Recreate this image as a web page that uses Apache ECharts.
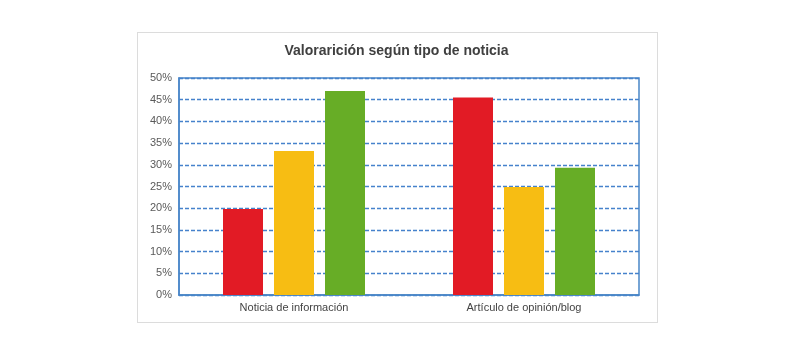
<!DOCTYPE html>
<html><head><meta charset="utf-8">
<script src="https://cdn.jsdelivr.net/npm/echarts@6/dist/echarts.min.js"></script>
<style>html,body{margin:0;padding:0;background:#fff}#frame{position:absolute;left:137px;top:32px;width:521px;height:291px;border:1.5px solid #dcdcdc;box-sizing:border-box}#c{position:absolute;left:0;top:0;width:793px;height:364px}</style>
</head><body><div id="frame"></div><div id="c"></div>
<script>
const categories = ['Noticia de información', 'Artículo de opinión/blog'];
const seriesRed = [19.8, 45.5];
const seriesYellow = [33.2, 24.9];
const seriesGreen = [47.0, 29.3];
const yTicks = [0, 5, 10, 15, 20, 25, 30, 35, 40, 45, 50];
const colors = ['#E21B25', '#F7BD13', '#67AD26'];
const chart = echarts.init(document.getElementById('c'));
const mk = (name, data, color) => ({name, type: 'bar', data, barWidth: 40, barGap: '27.5%', itemStyle: {color}});
chart.setOption({
  animation: false,
  title: {text: 'Valorarición según tipo de noticia', left: 'center', top: 39,
    textStyle: {fontFamily: 'Liberation Sans, Arial', fontSize: 14, fontWeight: 'bold', color: '#404040'}},
  grid: {left: 179, right: 154, top: 78, bottom: 69, show: true, borderColor: '#4A86C8', borderWidth: 1.5, containLabel: false},
  xAxis: {type: 'category', data: categories,
    axisLine: {show: true, lineStyle: {color: '#4A86C8', width: 1.5}},
    axisTick: {show: false},
    axisLabel: {color: '#444', fontFamily: 'Liberation Sans, Arial', fontSize: 11, margin: 7}},
  yAxis: {type: 'value', min: yTicks[0], max: yTicks[yTicks.length - 1], interval: 5,
    axisLine: {show: true, lineStyle: {color: '#4A86C8', width: 1.5}},
    axisTick: {show: false},
    splitLine: {show: true, lineStyle: {color: '#4682CC', type: [4, 2], width: 1.4}},
    axisLabel: {color: '#5a5a5a', fontFamily: 'Liberation Sans, Arial', fontSize: 11, margin: 7, formatter: v => v + '%'}},
  series: [mk('Rojo', seriesRed, colors[0]), mk('Amarillo', seriesYellow, colors[1]), mk('Verde', seriesGreen, colors[2])]
});
</script></body></html>
